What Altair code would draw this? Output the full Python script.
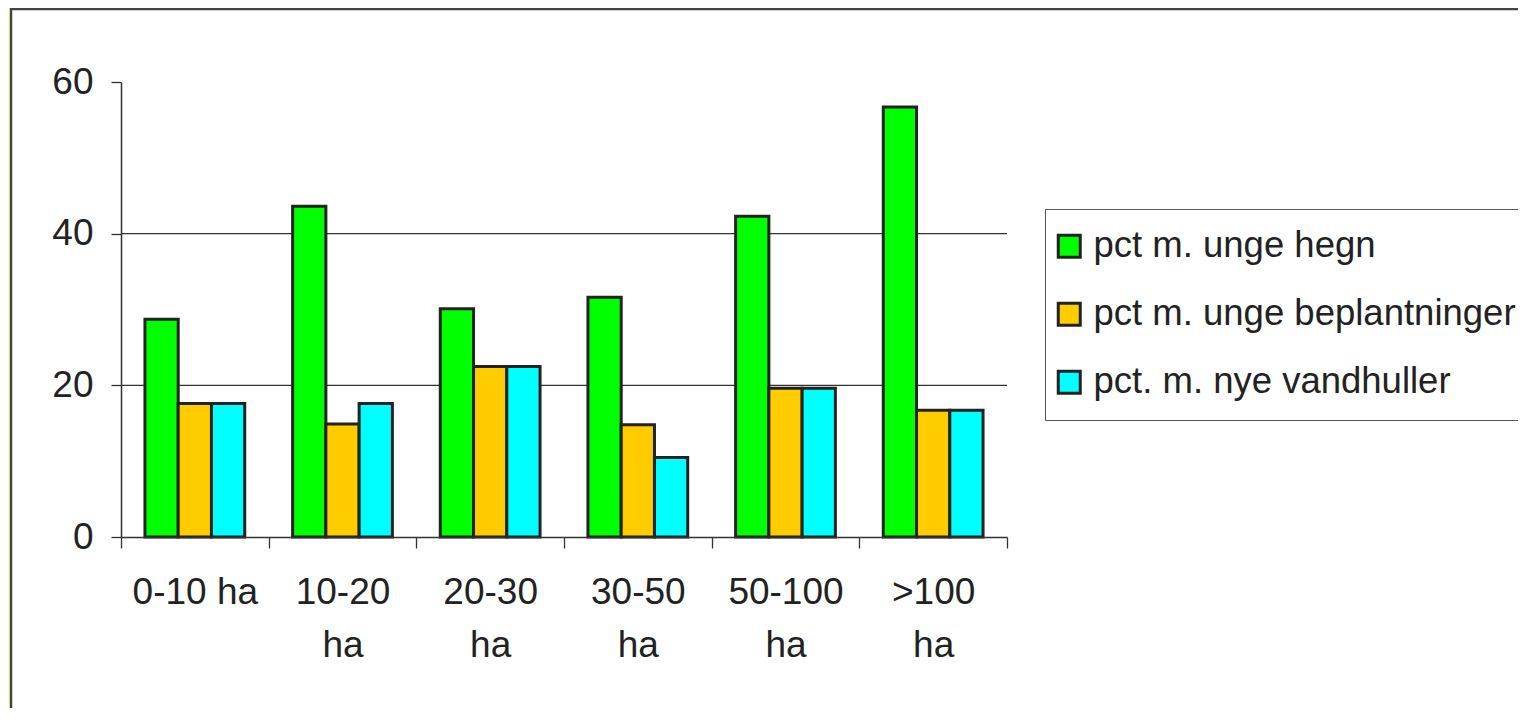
import altair as alt
import pandas as pd

categories = ["0-10 ha", "10-20 ha", "20-30 ha", "30-50 ha", "50-100 ha", ">100 ha"]
series = ["pct m. unge hegn", "pct m. unge beplantninger", "pct. m. nye vandhuller"]
hegn = [28.7, 43.6, 30.1, 31.6, 42.3, 56.7]
beplantninger = [17.6, 14.9, 22.5, 14.8, 19.6, 16.7]
vandhuller = [17.6, 17.6, 22.5, 10.5, 19.6, 16.7]
colors = ["#00FF00", "#FFCC00", "#00FFFF"]
y_ticks = [0, 20, 40, 60]
grid_values = [20, 40]

rows = []
for s, vals in zip(series, [hegn, beplantninger, vandhuller]):
    for c, v in zip(categories, vals):
        rows.append({"category": c, "series": s, "value": v})
df = pd.DataFrame(rows)

FONT = "Liberation Sans"
yscale = alt.Scale(domain=[0, 60], nice=False)

frame = alt.Chart(pd.DataFrame({"a": [0]})).mark_rect(
    fill="white", stroke="#444444", strokeWidth=2.5
).encode(
    x=alt.value(-110), x2=alt.value(1700), y=alt.value(-73), y2=alt.value(900)
)

grid = alt.Chart(pd.DataFrame({"v": grid_values})).mark_rule(
    color="#333333", strokeWidth=1.3
).encode(y=alt.Y("v:Q", scale=yscale))

bars = alt.Chart(df).mark_bar(stroke="#222222", strokeWidth=3).encode(
    x=alt.X(
        "category:N",
        sort=categories,
        scale=alt.Scale(paddingInner=0, paddingOuter=0),
        axis=alt.Axis(
            title=None,
            labelAngle=0,
            labelFont=FONT,
            labelFontSize=37,
            labelColor="#222222",
            labelPadding=26,
            labelLineHeight=53,
            labelOverlap=False,
            labelLimit=400,
            labelExpr="datum.label == '0-10 ha' ? datum.label : split(datum.label, ' ')",
            tickBand="extent",
            tickSize=11,
            tickColor="#333333",
            tickWidth=1.3,
            domainColor="#333333",
            domainWidth=1.5,
            grid=False,
            zindex=1,
        ),
    ),
    xOffset=alt.XOffset(
        "series:N", sort=series, scale=alt.Scale(paddingOuter=0.72, paddingInner=0)
    ),
    y=alt.Y(
        "value:Q",
        scale=yscale,
        axis=alt.Axis(
            title=None,
            values=y_ticks,
            labelFont=FONT,
            labelFontSize=37,
            labelColor="#222222",
            labelPadding=18,
            tickSize=10,
            tickColor="#333333",
            tickWidth=1.3,
            domainColor="#333333",
            domainWidth=1.5,
            grid=False,
            zindex=1,
        ),
    ),
    color=alt.Color(
        "series:N",
        sort=series,
        scale=alt.Scale(domain=series, range=colors),
        legend=alt.Legend(
            title=None,
            orient="none",
            legendX=924,
            legendY=127,
            strokeColor="#555555",
            fillColor="white",
            padding=19,
            symbolType="square",
            symbolSize=484,
            symbolOffset=-13,
            symbolStrokeColor="#222222",
            symbolStrokeWidth=3,
            symbolOpacity=1,
            labelFont=FONT,
            labelFontSize=36.5,
            labelColor="#222222",
            labelOffset=6,
            labelLimit=1000,
            rowPadding=31,
            zindex=1,
        ),
    ),
)

chart = alt.layer(frame, grid, bars).properties(
    width=886,
    height=455,
    autosize=alt.AutoSizeParams(type="none"),
    padding={"left": 113, "top": 74, "right": 511, "bottom": 171},
    background="#FFFFCC",
).configure_view(stroke=None)

chart.save("out.html", embed_options={"renderer": "svg", "actions": False})
